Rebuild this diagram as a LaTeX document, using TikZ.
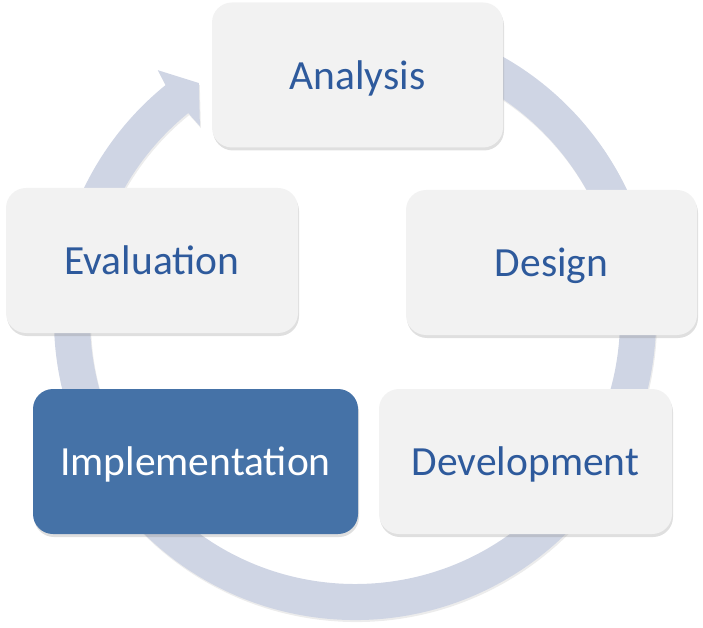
\documentclass[tikz,border=0pt]{standalone}
\usepackage{fontspec}
\setmainfont{Carlito}
\usepackage{tikz}
\usetikzlibrary{shadows}

\definecolor{ringgray}{HTML}{CFD5E4}
\definecolor{stagegray}{HTML}{F2F2F2}
\definecolor{stageblue}{HTML}{2E5A9C}
\definecolor{activeblue}{HTML}{4572A7}

\tikzset{
  stagebox/.style={fill=stagegray, rounded corners=20pt, inner sep=0pt,
    minimum height=145pt, minimum width=291pt, text=stageblue,
    text depth=0pt, font=\fontsize{41.5}{50}\selectfont,
    drop shadow={shadow xshift=1pt, shadow yshift=-3pt, opacity=.25}},
  activebox/.style={stagebox, fill=activeblue, text=white}
}

\begin{document}
\begin{tikzpicture}[x=1pt, y=1pt]
  \useasboundingbox (0, 0) rectangle (703, 627);
  % cycle arrow
  \begin{scope}[shift={(355, 308)}]
    \fill[ringgray, drop shadow={shadow xshift=1pt, shadow yshift=-2pt, opacity=.15}]
      (80:301) arc[start angle=80, end angle=-231, radius=301]
      -- (128.4:317.5) -- (123.5:283) -- (128.8:247.5)
      -- (129:265) arc[start angle=-231, end angle=80, radius=265] -- cycle;
  \end{scope}
  \node[stagebox] (analysis) at (357.5, 552) {Analysis};
  \node[stagebox, minimum width=292pt] (evaluation) at (152, 366.5) {Evaluation};
  \node[stagebox] (design) at (551.5, 364.5) {Design};
  \node[activebox, minimum width=325pt] (implementation) at (195.5, 165.5) {Implementation};
  \node[stagebox, minimum width=293pt] (development) at (525.5, 165.5) {Development};
\end{tikzpicture}
\end{document}
